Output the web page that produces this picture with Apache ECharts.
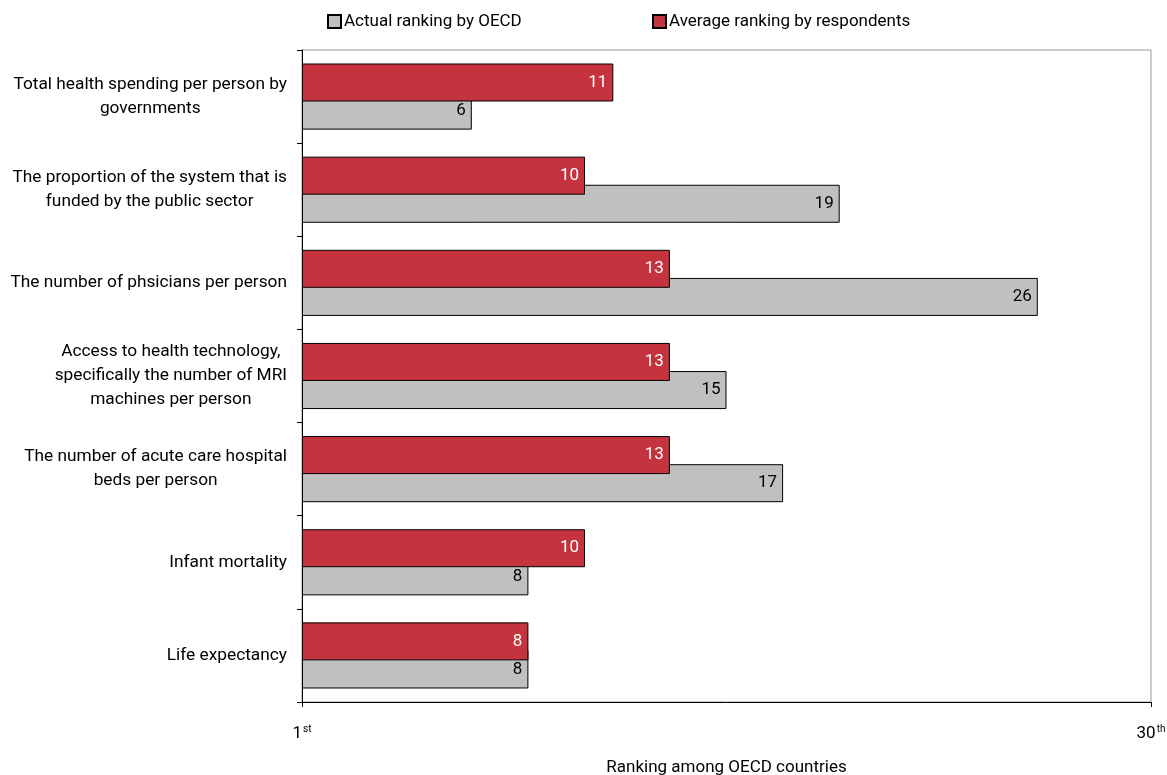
<!DOCTYPE html>
<html>
<head>
<meta charset="utf-8">
<script src="https://cdn.jsdelivr.net/npm/echarts@6/dist/echarts.min.js"></script>
<style>html,body{margin:0;padding:0;background:#fff}#c{width:1167px;height:775px}</style>
</head>
<body>
<div id="c"></div>
<script>
const categories = [
  'Total health spending per person by\ngovernments',
  'The proportion of the system that is\nfunded by the public sector',
  'The number of phsicians per person',
  'Access to health technology,\nspecifically the number of MRI\nmachines per person',
  'The number of acute care hospital\nbeds per person',
  'Infant mortality',
  'Life expectancy'
];
const actualOECD = [6, 19, 26, 15, 17, 8, 8];
const avgRespondents = [11, 10, 13, 13, 13, 10, 8];
const seriesNames = ['Actual ranking by OECD', 'Average ranking by respondents'];
const xTickLabels = {0: ['1', 'st'], 30: ['30', 'th']};
const xAxisName = 'Ranking among OECD countries';

const FONT = 'Roboto';
const FS = 17;
const chart = echarts.init(document.getElementById('c'), null, {renderer: 'canvas'});
const labelBase = {show: true, position: 'insideRight', fontFamily: FONT, fontSize: FS, distance: 6};
chart.setOption({
  animation: false,
  textStyle: {fontFamily: FONT},
  legend: [
    {left: 322, top: 8, itemWidth: 13, itemHeight: 13, itemGap: 4, icon: 'rect',
     data: [seriesNames[0]], textStyle: {fontFamily: FONT, fontSize: FS, color: '#000', padding: [0,0,0,-2]}},
    {left: 647, top: 8, itemWidth: 13, itemHeight: 13, itemGap: 4, icon: 'rect',
     data: [seriesNames[1]], textStyle: {fontFamily: FONT, fontSize: FS, color: '#000', padding: [0,0,0,-2]}}
  ],
  grid: {left: 302, right: 16, top: 50, bottom: 73, containLabel: false, outerBoundsMode: 'none',
         show: true, borderColor: '#999', borderWidth: 1},
  xAxis: {
    type: 'value', min: 0, max: 30, interval: 30,
    name: xAxisName, nameLocation: 'middle', nameGap: 57,
    nameTextStyle: {fontFamily: FONT, fontSize: FS, color: '#000'},
    axisLine: {show: true, lineStyle: {color: '#000', width: 1}},
    axisTick: {show: true, length: 5, lineStyle: {color: '#000'}},
    splitLine: {show: false},
    axisLabel: {
      margin: 22, color: '#000',
      formatter: v => { const t = xTickLabels[v]; return t ? '{n|' + t[0] + '}{s|' + t[1] + '}' : ''; },
      rich: {
        n: {fontFamily: FONT, fontSize: FS, color: '#000'},
        s: {fontFamily: FONT, fontSize: 10, color: '#000', padding: [0, 0, 10, 1]}
      }
    }
  },
  yAxis: {
    type: 'category', data: categories, inverse: true,
    axisLine: {show: true, lineStyle: {color: '#000', width: 1}},
    axisTick: {show: true, length: 5, lineStyle: {color: '#000'}},
    axisLabel: {
      margin: 15, color: '#000', align: 'right',
      formatter: v => v.split('\n').map(l => '{a|' + l + '}').join('\n'),
      rich: {a: {fontFamily: FONT, fontSize: 17.3, color: '#000', align: 'center', lineHeight: 24}}
    }
  },
  series: [
    {
      name: seriesNames[1], type: 'bar', data: avgRespondents, barWidth: 38, barGap: '-26%',
      itemStyle: {color: '#C5333F', borderColor: '#000', borderWidth: 1},
      label: Object.assign({}, labelBase, {color: '#fff'}), z: 3
    },
    {
      name: seriesNames[0], type: 'bar', data: actualOECD, barWidth: 38, barGap: '-26%',
      itemStyle: {color: '#C0C0C0', borderColor: '#000', borderWidth: 1},
      label: Object.assign({}, labelBase, {color: '#000'}), z: 2
    }
  ]
});
</script>
</body>
</html>
